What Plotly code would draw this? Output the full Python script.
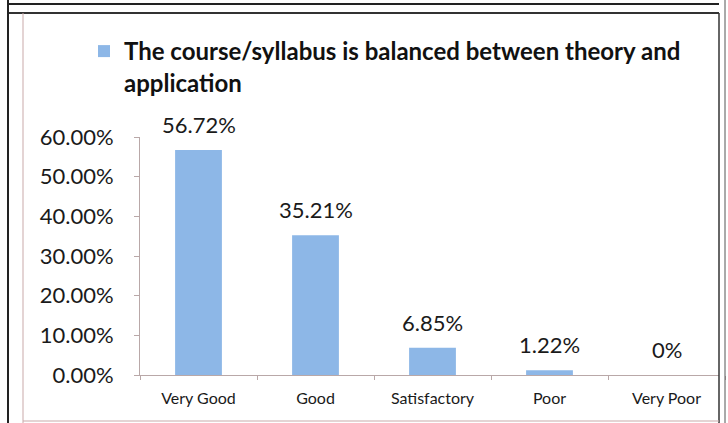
import plotly.graph_objects as go

categories = ["Very Good", "Good", "Satisfactory", "Poor", "Very Poor"]
values = [56.72, 35.21, 6.85, 1.22, 0]
value_labels = ["56.72%", "35.21%", "6.85%", "1.22%", "0%"]
y_ticks = [0, 10, 20, 30, 40, 50, 60]
y_tick_labels = ["0.00%", "10.00%", "20.00%", "30.00%", "40.00%", "50.00%", "60.00%"]
series_name = "The course/syllabus is balanced between theory and<br>application"

W, H = 728, 423
L, R, T, B = 140, 3, 137, 48
pw, ph = W - L - R, H - T - B

def px(x):
    return (x - L) / pw

def py(y):
    return (H - B - y) / ph

FONT = "Lato"
BAR = "#8db7e7"

fig = go.Figure()
fig.add_trace(go.Bar(
    x=categories, y=values, name=series_name,
    marker=dict(color=BAR, line=dict(width=0)),
    showlegend=True,
))

for c, v, t in zip(categories, values, value_labels):
    fig.add_annotation(x=c, y=v, text=t, showarrow=False, yanchor="bottom",
                       yshift=10, font=dict(family=FONT, size=22, color="#1a1a1a"))

# frame decoration
frame = [
    (px(8), py(4), px(721), py(4), "#222", 2),
    (px(8), py(13), px(719), py(13), "#333", 2),
    (px(8), py(0), px(8), py(423), "#222", 2),
    (px(722), py(0), px(722), py(423), "white", 6),
    (px(719), py(13), px(719), py(423), "#333", 1.5),
    (px(725), py(0), px(725), py(423), "#555", 1),
    (px(23), py(13), px(23), py(423), "#c9a9a9", 1),
    (px(23), py(421), px(719), py(421), "#c9a9a9", 1),
]
for x0, y0, x1, y1, col, w in frame:
    fig.add_shape(type="line", xref="paper", yref="paper", x0=x0, y0=y0, x1=x1, y1=y1,
                  line=dict(color=col, width=w), layer="above")

fig.update_layout(
    width=W, height=H,
    margin=dict(l=L, r=R, t=T, b=B),
    paper_bgcolor="white", plot_bgcolor="white",
    bargap=0.6,
    font=dict(family=FONT, color="#1a1a1a"),
    legend=dict(x=px(84), y=py(29), xanchor="left", yanchor="top",
                font=dict(family=FONT, size=24, color="#111", weight="bold"),
                valign="top", bgcolor="rgba(0,0,0,0)", itemwidth=30),
    xaxis=dict(showline=True, linecolor="#b9a8a8", linewidth=1, ticks="outside",
               tickson="boundaries", ticklen=4, tickcolor="#b9a8a8",
               tickfont=dict(family=FONT, size=16, color="#1a1a1a"),
               ticklabelstandoff=9, range=[-0.5, 4.5], fixedrange=True),
    yaxis=dict(range=[0, 60], tickvals=y_ticks, ticktext=y_tick_labels,
               showgrid=False, zeroline=False, showline=True, linecolor="#b9a8a8",
               linewidth=1, ticks="outside", ticklen=5, tickcolor="#b9a8a8",
               tickfont=dict(family=FONT, size=22, color="#1a1a1a"),
               ticklabelstandoff=16),
)

fig.write_html("out.html", config={"displayModeBar": False},
               post_script="document.body.style.margin='0';")
